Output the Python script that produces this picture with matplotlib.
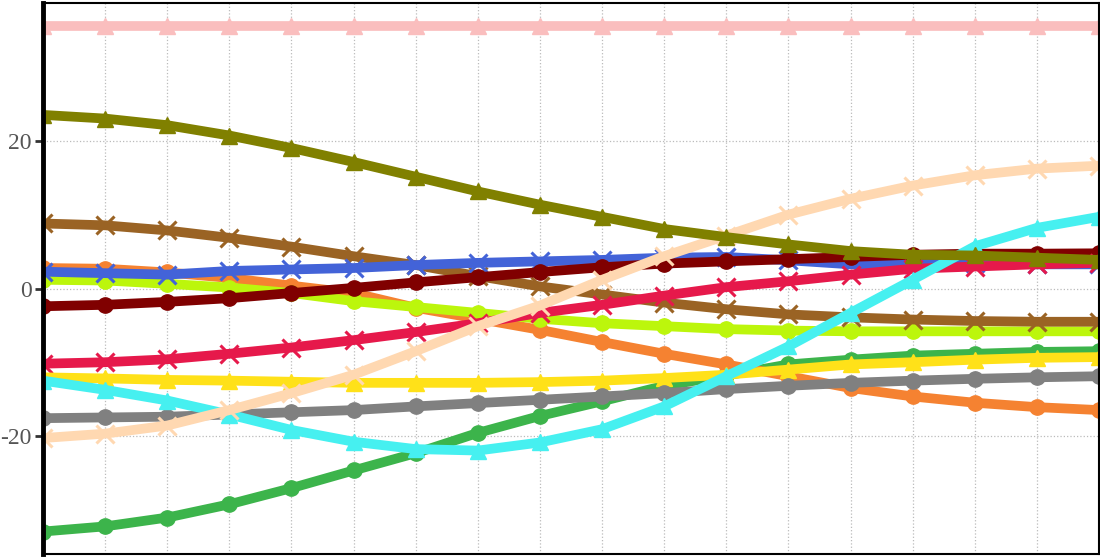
import matplotlib
matplotlib.use("Agg")
import matplotlib.pyplot as plt
import numpy as np

x = list(range(18))

pink = [35.7] * 18
olive = [23.6, 23.1, 22.2, 20.8, 19.1, 17.2, 15.2, 13.2, 11.4, 9.75, 8.1, 7.0, 6.0, 5.1, 4.6, 4.5, 4.2, 3.9]
brown = [8.85, 8.6, 7.9, 6.9, 5.7, 4.4, 3.2, 1.7, 0.3, -0.8, -1.9, -2.8, -3.5, -3.9, -4.2, -4.4, -4.5, -4.5]
blue = [2.3, 2.1, 1.9, 2.4, 2.6, 2.8, 3.2, 3.5, 3.7, 3.9, 4.2, 4.3, 3.85, 3.3, 3.3, 3.5, 3.3, 3.3]
orange = [2.8, 2.7, 2.2, 1.45, 0.4, -0.6, -2.6, -4.1, -5.6, -7.25, -8.85, -10.3, -11.9, -13.5, -14.65, -15.5, -16.1, -16.5]
lime = [1.2, 1.1, 0.65, 0.15, -0.6, -1.7, -2.5, -3.3, -4.1, -4.7, -5.1, -5.5, -5.7, -5.8, -5.8, -5.8, -5.8, -5.8]
maroon = [-2.4, -2.2, -1.8, -1.3, -0.6, 0.1, 0.85, 1.55, 2.25, 2.9, 3.4, 3.7, 4.0, 4.3, 4.6, 4.75, 4.75, 4.8]
crimson = [-10.2, -10.0, -9.6, -8.85, -8.0, -7.0, -5.9, -4.7, -3.3, -2.2, -0.95, 0.2, 1.0, 1.9, 2.7, 3.0, 3.3, 3.5]
yellow = [-12.05, -12.2, -12.4, -12.5, -12.65, -12.8, -12.8, -12.8, -12.7, -12.5, -12.15, -11.7, -11.0, -10.3, -10.0, -9.65, -9.4, -9.3]
cyan = [-12.5, -13.75, -15.2, -17.1, -19.2, -20.8, -21.8, -22.0, -20.9, -19.1, -16.0, -11.9, -7.85, -3.3, 1.2, 5.75, 8.25, 9.75]
gray = [-17.6, -17.5, -17.4, -17.1, -16.8, -16.5, -16.0, -15.55, -15.1, -14.65, -14.2, -13.65, -13.2, -12.8, -12.5, -12.25, -12.05, -11.9]
peach = [-20.3, -19.7, -18.6, -16.5, -14.2, -11.7, -8.5, -5.1, -2.3, 1.2, 4.4, 7.2, 10.05, 12.2, 14.0, 15.4, 16.3, 16.7]
green = [-33.0, -32.3, -31.1, -29.3, -27.1, -24.7, -22.35, -19.6, -17.3, -15.3, -13.2, -11.8, -10.3, -9.65, -9.1, -8.85, -8.6, -8.5]

series = [
    (green, "#3cb44b", "o"),
    (orange, "#f58231", "o"),
    (lime, "#bcf60c", "o"),
    (brown, "#9a6324", "x"),
    (blue, "#4363d8", "x"),
    (maroon, "#800000", "o"),
    (crimson, "#e6194b", "x"),
    (yellow, "#ffe119", "^"),
    (gray, "#808080", "o"),
    (cyan, "#46f0f0", "^"),
    (peach, "#ffd8b1", "x"),
    (olive, "#808000", "^"),
    (pink, "#fabebe", "^"),
]

yticks = [-20, 0, 20]
ytick_labels = ["-20", "0", "20"]

fig = plt.figure(figsize=(11, 5.57), dpi=100)
ax = fig.add_axes([43 / 1100, 3 / 557, 1056 / 1100, 551 / 557])

for vals, col, mk in series:
    if mk == "x":
        ax.plot(x, vals, color=col, lw=7, marker=mk, ms=13, mew=2.2, clip_on=True)
    else:
        ax.plot(x, vals, color=col, lw=7, marker=mk, ms=11, clip_on=True)

ax.set_xlim(0, 17)
ax.set_ylim(-36.05, 38.8)
ax.set_xticks(x)
ax.set_xticklabels([])
ax.tick_params(axis="x", length=0)
ax.set_yticks(yticks)
ax.set_yticklabels(ytick_labels, family="Liberation Serif", fontsize=17, color="#555555")
ax.tick_params(axis="y", length=6, width=2, color="#333333", pad=2)
ax.grid(True, linestyle=":", color="#bbbbbb", lw=0.9)
ax.set_axisbelow(True)

ax.spines["left"].set_linewidth(3.5)
ax.spines["left"].set_color("black")
for s in ["top", "right", "bottom"]:
    ax.spines[s].set_linewidth(1.5)
    ax.spines[s].set_color("black")

fig.savefig("out.png", dpi=100)
